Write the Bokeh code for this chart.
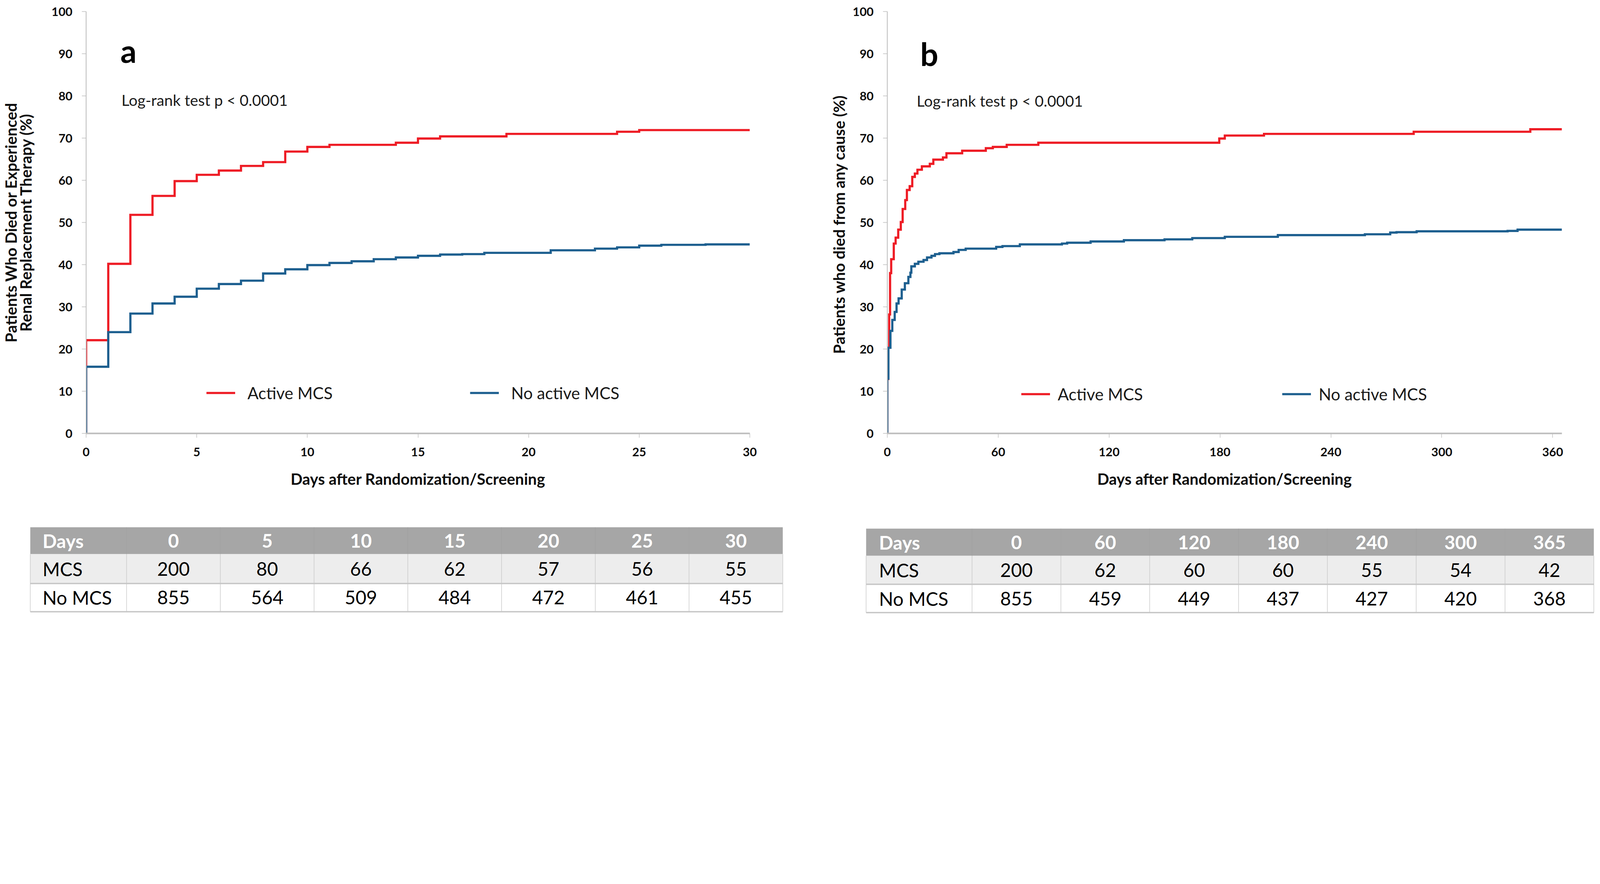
from bokeh.plotting import figure
from bokeh.models import Range1d, FixedTicker, Label, Legend, LegendItem
from bokeh.layouts import row, column
from bokeh.embed import file_html
from bokeh.resources import INLINE
from bokeh.core.properties import value

# ---------------- data ----------------
# Panel a: death or renal replacement therapy (%), 30 days
a_mcs_days = [0, 0, 1, 2, 3, 4, 5, 6, 7, 8, 9, 10, 11, 14, 15, 16, 19, 24, 25, 30]
a_mcs_pct = [0, 22.1, 40.2, 51.8, 56.3, 59.8, 61.3, 62.3, 63.4, 64.3, 66.8, 67.9, 68.4,
             68.9, 69.9, 70.4, 71.0, 71.5, 71.9, 71.9]
a_nomcs_days = [0, 0, 1, 2, 3, 4, 5, 6, 7, 8, 9, 10, 11, 12, 13, 14, 15, 16, 17, 18, 21,
                23, 24, 25, 26, 28, 30]
a_nomcs_pct = [0, 15.8, 24.0, 28.4, 30.8, 32.4, 34.3, 35.4, 36.2, 37.9, 38.9, 39.9, 40.4,
               40.8, 41.3, 41.7, 42.1, 42.4, 42.5, 42.8, 43.4, 43.8, 44.1, 44.5, 44.7,
               44.8, 44.8]

# Panel b: death from any cause (%), 365 days
b_mcs_days = [0, 0, 0.5, 1, 1.5, 2.1, 3.5, 4.5, 5.9, 7.3, 8.3, 9.7, 10.6, 12.1, 13.5, 14.9,
              16.3, 18.7, 23.0, 24.9, 30.1, 32.0, 40.5, 53.3, 57.1, 64.6, 81.7, 179.6,
              182.6, 203.8, 284.8, 347.9, 365]
b_mcs_pct = [0, 12.9, 20.3, 28.2, 38.0, 41.3, 45.0, 46.4, 48.3, 50.1, 53.2, 55.3, 57.7,
             58.6, 60.8, 61.6, 62.5, 63.3, 63.9, 64.9, 65.4, 66.4, 67.0, 67.6, 67.9, 68.4,
             68.9, 69.9, 70.6, 71.0, 71.5, 72.1, 72.1]
b_nomcs_days = [0, 0, 0.6, 1.7, 2.7, 4.0, 5.0, 6.1, 7.8, 9.5, 11.4, 12.5, 13.0, 14.9, 16.8,
                19.6, 21.5, 23.9, 25.8, 28.2, 35.8, 38.6, 42.4, 58.9, 62.3, 71.7, 94.5,
                97.3, 110, 128, 150, 165, 182.6, 211.3, 258.4, 272.1, 275.5, 286.4,
                335.6, 341, 365]
b_nomcs_pct = [0, 13.0, 20.3, 24.3, 26.9, 28.8, 30.8, 32.0, 34.1, 35.6, 37.1, 38.1, 39.6,
               40.2, 40.7, 41.1, 41.7, 42.1, 42.5, 42.7, 43.0, 43.5, 43.8, 44.2, 44.4,
               44.8, 45.0, 45.2, 45.5, 45.8, 46.0, 46.3, 46.6, 47.0, 47.2, 47.6, 47.7,
               47.9, 48.0, 48.3, 48.3]

a_xticks = [0, 5, 10, 15, 20, 25, 30]
b_xticks = [0, 60, 120, 180, 240, 300, 360]
y_ticks = [0, 10, 20, 30, 40, 50, 60, 70, 80, 90, 100]

series_names = ["Active MCS", "No active MCS"]

# Numbers at risk tables
tab_a_days = ["0", "5", "10", "15", "20", "25", "30"]
tab_a_mcs = [200, 80, 66, 62, 57, 56, 55]
tab_a_nomcs = [855, 564, 509, 484, 472, 461, 455]
tab_b_days = ["0", "60", "120", "180", "240", "300", "365"]
tab_b_mcs = [200, 62, 60, 60, 55, 54, 42]
tab_b_nomcs = [855, 459, 449, 437, 427, 420, 368]
row_names = ["Days", "MCS", "No MCS"]

# ---------------- styling / geometry ----------------
RED = "#ee1c25"
BLUE = "#1d5f8f"
AXIS_GREY = "#bdbdbd"
FONT = "Lato"

D = 1.4235  # rendered pixels per CSS pixel
M = 8       # page margin (CSS px)


def c(v):
    """picture pixels -> CSS pixels"""
    return v / D


def px(v):
    return "%.1fpx" % c(v)


# figure extents (picture px)
SPLIT_X = 2990
RIGHT_X = 5820
TOP_BOTTOM = 1900
PAGE_BOTTOM = 2250

Wa = round(c(SPLIT_X) - M)
Wb = round(c(RIGHT_X) - M - Wa)
Ht = round(c(TOP_BOTTOM) - M)
Hb = round(c(PAGE_BOTTOM) - M - Ht)
XB = M + Wa  # css x where right column starts


def km_figure(fig_left_css, width, frame_px, x_end, xticks, ylabel, ylabel_standoff,
              ylabel_line_height, red_xy, blue_xy, letter, letter_xy, logrank_xy,
              legend_loc_px, legend_standoff_px, legend_label_width_px):
    fl, fr, ft, fb = frame_px
    bl = round(c(fl) - fig_left_css)
    br = width - round(c(fr) - fig_left_css)
    bt = round(c(ft) - M)
    bb = Ht - round(c(fb) - M)
    p = figure(width=width, height=Ht, x_range=Range1d(0, x_end),
               y_range=Range1d(0, 100), output_backend="svg", toolbar_location=None,
               min_border_left=bl, min_border_right=br, min_border_top=bt,
               min_border_bottom=bb)
    p.outline_line_color = None
    p.grid.visible = False
    p.background_fill_color = "white"
    p.border_fill_color = "white"

    p.xaxis.ticker = FixedTicker(ticks=xticks)
    p.yaxis.ticker = FixedTicker(ticks=y_ticks)
    p.axis.minor_tick_line_color = None
    p.axis.major_tick_in = 0
    p.axis.major_tick_out = round(c(15))
    p.axis.major_tick_line_color = AXIS_GREY
    p.axis.major_tick_line_width = c(2)
    p.xaxis.axis_line_width = c(6)
    p.yaxis.axis_line_width = c(3)
    p.axis.axis_line_color = AXIS_GREY
    p.axis.major_label_text_font = FONT
    p.axis.major_label_text_font_size = px(44)
    p.axis.major_label_text_font_style = "bold"
    p.axis.major_label_text_color = "#0d0d0d"
    p.xaxis.major_label_standoff = round(c(36))
    p.yaxis.major_label_standoff = round(c(34))
    p.axis.axis_label_text_font = FONT
    p.axis.axis_label_text_font_size = px(57)
    p.axis.axis_label_text_font_style = "bold"
    p.axis.axis_label_text_color = "#0d0d0d"
    p.xaxis.axis_label = "Days after Randomization/Screening"
    p.xaxis.axis_label_standoff = round(c(44))
    p.yaxis.axis_label = ylabel
    p.yaxis.axis_label_standoff = round(c(ylabel_standoff))
    p.yaxis.axis_label_text_line_height = ylabel_line_height

    r_red = p.step(x=red_xy[0], y=red_xy[1], mode="after", line_color=RED,
                   line_width=c(8), line_join="miter")
    r_blue = p.step(x=blue_xy[0], y=blue_xy[1], mode="after", line_color=BLUE,
                    line_width=c(8), line_join="miter")

    p.add_layout(Label(x=letter_xy[0], y=letter_xy[1], text=letter, text_font=FONT,
                       text_font_size=px(116), text_font_style="bold",
                       text_color="#000000", text_baseline="alphabetic"))
    p.add_layout(Label(x=logrank_xy[0], y=logrank_xy[1], text="Log-rank test p < 0.0001",
                       text_font=FONT, text_font_size=px(56), text_color="#1a1a1a",
                       text_baseline="alphabetic"))

    legend = Legend(items=[LegendItem(label=series_names[0], renderers=[r_red]),
                           LegendItem(label=series_names[1], renderers=[r_blue])],
                    orientation="horizontal",
                    location=(c(legend_loc_px[0]), c(legend_loc_px[1])),
                    padding=0, margin=0, spacing=0,
                    glyph_width=round(c(105)), glyph_height=round(c(76)),
                    label_height=round(c(76)),
                    label_width=round(c(legend_label_width_px)),
                    label_standoff=round(c(legend_standoff_px)),
                    label_text_font=FONT, label_text_font_size=px(60),
                    label_text_color="#1a1a1a", border_line_alpha=0,
                    background_fill_alpha=0)
    p.add_layout(legend)
    return p


def table_figure(fig_left_css, width, x0, w_first, w_col, row_edges, days, mcs, nomcs, pad):
    left_px = fig_left_css * D
    right_px = (fig_left_css + width) * D
    top_px = (M + Ht) * D
    bottom_px = (M + Ht + Hb) * D
    p = figure(width=width, height=Hb, x_range=Range1d(left_px, right_px),
               y_range=Range1d(bottom_px, top_px), output_backend="svg",
               toolbar_location=None, min_border=0)
    p.axis.visible = False
    p.grid.visible = False
    p.outline_line_color = None
    n = len(days)
    edges = [x0] + [x0 + w_first + i * w_col for i in range(n + 1)]
    fills = ["#a6a6a6", "#ededed", "#ffffff"]
    L, R, T, B, C = [], [], [], [], []
    for r in range(3):
        for k in range(n + 1):
            L.append(edges[k]); R.append(edges[k + 1])
            T.append(row_edges[r]); B.append(row_edges[r + 1]); C.append(fills[r])
    p.quad(left=L, right=R, top=T, bottom=B, fill_color=C, line_color=None)

    # vertical grid lines in body rows
    p.segment(x0=edges, y0=[row_edges[1]] * len(edges), x1=edges,
              y1=[row_edges[3]] * len(edges), line_color="#c9c9c9", line_width=c(2))
    # faint separators in header
    p.segment(x0=edges[1:-1], y0=[row_edges[0]] * n, x1=edges[1:-1],
              y1=[row_edges[1]] * n, line_color="#9e9e9e", line_width=c(1.5))
    # horizontal rules
    p.segment(x0=[edges[0], edges[0]], y0=[row_edges[2], row_edges[3]],
              x1=[edges[-1], edges[-1]], y1=[row_edges[2], row_edges[3]],
              line_color="#c6c6c6", line_width=c(5))

    centers = [(edges[k] + edges[k + 1]) / 2 for k in range(1, n + 1)]
    mids = [(row_edges[r] + row_edges[r + 1]) / 2 for r in range(3)]
    fs = value(px(68))

    p.text(x=[x0 + pad] * 3, y=mids, text=row_names, text_align="left",
           text_baseline="middle", text_font=value(FONT), text_font_size=fs,
           text_font_style=["bold", "normal", "normal"],
           text_color=["#ffffff", "#000000", "#000000"])
    p.text(x=centers, y=[mids[0]] * n, text=days, text_align="center",
           text_baseline="middle", text_font=value(FONT), text_font_size=fs,
           text_font_style="bold", text_color="#ffffff")
    p.text(x=centers, y=[mids[1]] * n, text=[str(v) for v in mcs], text_align="center",
           text_baseline="middle", text_font=value(FONT), text_font_size=fs,
           text_color="#000000")
    p.text(x=centers, y=[mids[2]] * n, text=[str(v) for v in nomcs], text_align="center",
           text_baseline="middle", text_font=value(FONT), text_font_size=fs,
           text_color="#000000")
    return p


fig_a = km_figure(M, Wa, (319, 2743, 52, 1590), 30, a_xticks,
                  "Patients Who Died or Experienced\nRenal Replacement Therapy (%)", 55, 0.79,
                  (a_mcs_days, a_mcs_pct), (a_nomcs_days, a_nomcs_pct),
                  "a", (1.55, 90.7), (1.6, 79.1), (439, 109), 44, 811)
fig_b = km_figure(XB, Wb, (3244, 5702, 40, 1590), 365, b_xticks,
                  "Patients who died  from any cause (%)", 12, 1.2,
                  (b_mcs_days, b_mcs_pct), (b_nomcs_days, b_nomcs_pct),
                  "b", (17.8, 90.0), (15.9, 78.9), (488, 106), 29, 817)

tab_a = table_figure(M, Wa, 121, 351, 341.6, [1932, 2030, 2137, 2240],
                     tab_a_days, tab_a_mcs, tab_a_nomcs, 45)
tab_b = table_figure(XB, Wb, 3167, 386, 323.7, [1937, 2036, 2140, 2243],
                     tab_b_days, tab_b_mcs, tab_b_nomcs, 47)

layout = column(row(fig_a, fig_b, spacing=0), row(tab_a, tab_b, spacing=0), spacing=0)

open("out.html", "w").write(file_html(layout, INLINE))
